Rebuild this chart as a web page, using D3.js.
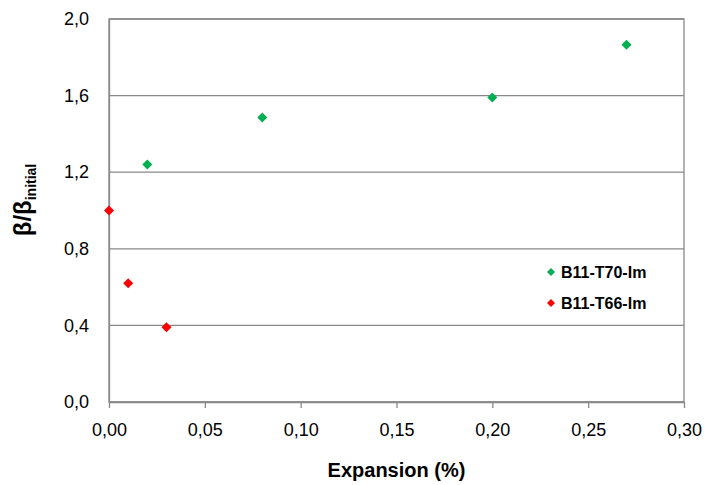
<!DOCTYPE html>
<html>
<head>
<meta charset="utf-8">
<script src="https://cdn.jsdelivr.net/npm/d3@7"></script>
<style>
  body { margin: 0; background: #fff; }
  svg { display: block; }
</style>
</head>
<body>
<svg id="chart" width="705" height="485"></svg>
<script>
// ---- data ----
const seriesNames = ["B11-T70-Im", "B11-T66-Im"];
const seriesColors = ["#00b050", "#ff0000"];
const t70X = [0.02, 0.08, 0.20, 0.27];
const t70Y = [1.24, 1.485, 1.59, 1.865];
const t66X = [0.00, 0.01, 0.03];
const t66Y = [1.00, 0.62, 0.39];
const xTicks = [0, 0.05, 0.10, 0.15, 0.20, 0.25, 0.30];
const yTicks = [0, 0.4, 0.8, 1.2, 1.6, 2.0];

const series = [
  { name: seriesNames[0], color: seriesColors[0], pts: t70X.map((x, i) => ({ x, y: t70Y[i] })) },
  { name: seriesNames[1], color: seriesColors[1], pts: t66X.map((x, i) => ({ x, y: t66Y[i] })) }
];

const svg = d3.select("#chart");
const m = { left: 109, top: 19, right: 21, bottom: 83 };
const W = 705 - m.left - m.right, H = 485 - m.top - m.bottom;
const g = svg.append("g").attr("transform", `translate(${m.left},${m.top})`);

const x = d3.scaleLinear().domain([0, 0.30]).range([0, W]);
const y = d3.scaleLinear().domain([0, 2.0]).range([H, 0]);
const fmtX = v => d3.format(".2f")(v).replace(".", ",");
const fmtY = v => d3.format(".1f")(v).replace(".", ",");
const grey = "#898989";
const font = "'Liberation Sans', Arial, sans-serif";

// gridlines
g.append("g").selectAll("line").data(yTicks).join("line")
  .attr("x1", 0).attr("x2", W)
  .attr("y1", d => y(d)).attr("y2", d => y(d))
  .attr("stroke", grey).attr("stroke-width", 1.3);

// plot border
g.append("rect").attr("x", 0).attr("y", 0).attr("width", W).attr("height", H)
  .attr("fill", "none").attr("stroke", grey).attr("stroke-width", 1.3);

// x axis
const xAxis = g.append("g").attr("transform", `translate(0,${H})`)
  .call(d3.axisBottom(x).tickValues(xTicks).tickFormat(fmtX).tickSizeInner(6).tickSizeOuter(0).tickPadding(20));
xAxis.select(".domain").attr("stroke", grey).attr("stroke-width", 1.3);
xAxis.selectAll(".tick line").attr("stroke", grey).attr("stroke-width", 1.3);
xAxis.selectAll("text").attr("font-family", font).attr("font-size", 18).attr("fill", "#000")
  .attr("dy", null).attr("y", 34);

// y axis
const yAxis = g.append("g")
  .call(d3.axisLeft(y).tickValues(yTicks).tickFormat(fmtY).tickSize(0).tickPadding(20));
yAxis.select(".domain").attr("stroke", grey).attr("stroke-width", 1.3);
yAxis.selectAll("text").attr("font-family", font).attr("font-size", 18).attr("fill", "#000");

// markers
const diamond = d3.symbol(d3.symbolSquare, 50);
series.forEach(s => {
  g.append("g").selectAll("path").data(s.pts).join("path")
    .attr("d", diamond)
    .attr("transform", d => `translate(${x(d.x)},${y(d.y)}) rotate(45)`)
    .attr("fill", s.color);
});

// legend
const legend = svg.append("g").attr("transform", "translate(551,272)");
const lgItems = legend.selectAll("g").data(series).join("g")
  .attr("transform", (d, i) => `translate(0,${i * 31})`);
lgItems.append("path").attr("d", d3.symbol(d3.symbolSquare, 32))
  .attr("transform", "rotate(45)").attr("fill", d => d.color);
lgItems.append("text").attr("x", 10).attr("y", 5.5)
  .attr("font-family", font).attr("font-size", 16).attr("font-weight", "bold")
  .text(d => d.name);

// x title
svg.append("text").attr("x", m.left + W / 2).attr("y", 477)
  .attr("text-anchor", "middle").attr("font-family", font)
  .attr("font-size", 20).attr("font-weight", "bold").text("Expansion (%)");

// y title
const yt = svg.append("text")
  .attr("transform", "translate(31,200) rotate(-90)")
  .attr("text-anchor", "middle").attr("font-family", font)
  .attr("font-size", 24).attr("font-weight", "bold");
yt.append("tspan").text("β/β");
yt.append("tspan").attr("font-size", 14).attr("dy", 5).text("initial");
</script>
</body>
</html>
